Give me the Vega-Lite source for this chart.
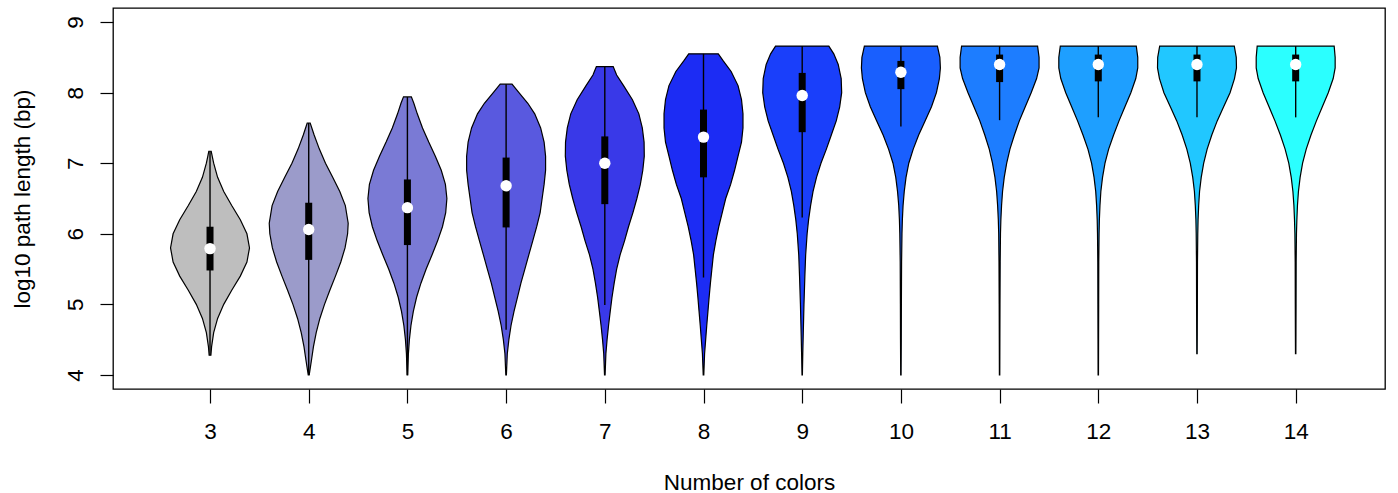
{
  "$schema": "https://vega.github.io/schema/vega-lite/v6.json",
  "width": 1272,
  "height": 381,
  "autosize": {"type": "none"},
  "padding": {"left": 113, "top": 8, "right": 13, "bottom": 104},
  "background": "white",
  "config": {
    "view": {"stroke": "black", "strokeWidth": 1.3},
    "font": "Liberation Sans"
  },
  "datasets": {
    "violins": [
      {"n":3,"v":4.28,"w":0.009},{"n":3,"v":4.4,"w":0.016},{"n":3,"v":4.6,"w":0.037},{"n":3,"v":4.8,"w":0.077},{"n":3,"v":5.0,"w":0.139},{"n":3,"v":5.2,"w":0.22},{"n":3,"v":5.4,"w":0.307},{"n":3,"v":5.6,"w":0.374},{"n":3,"v":5.8,"w":0.4},{"n":3,"v":6.0,"w":0.374},{"n":3,"v":6.2,"w":0.307},{"n":3,"v":6.4,"w":0.22},{"n":3,"v":6.6,"w":0.139},{"n":3,"v":6.8,"w":0.077},{"n":3,"v":7.0,"w":0.037},{"n":3,"v":7.1,"w":0.022},{"n":3,"v":7.17,"w":0.012},
      {"n":4,"v":4.0,"w":0.005},{"n":4,"v":4.2,"w":0.027},{"n":4,"v":4.4,"w":0.048},{"n":4,"v":4.6,"w":0.076},{"n":4,"v":4.8,"w":0.113},{"n":4,"v":5.0,"w":0.16},{"n":4,"v":5.2,"w":0.214},{"n":4,"v":5.4,"w":0.271},{"n":4,"v":5.6,"w":0.325},{"n":4,"v":5.8,"w":0.368},{"n":4,"v":6.0,"w":0.394},{"n":4,"v":6.15,"w":0.4},{"n":4,"v":6.4,"w":0.371},{"n":4,"v":6.6,"w":0.315},{"n":4,"v":6.8,"w":0.243},{"n":4,"v":7.0,"w":0.17},{"n":4,"v":7.2,"w":0.108},{"n":4,"v":7.4,"w":0.055},{"n":4,"v":7.57,"w":0.015},
      {"n":5,"v":4.0,"w":0.003},{"n":5,"v":4.3,"w":0.01},{"n":5,"v":4.5,"w":0.02},{"n":5,"v":4.7,"w":0.036},{"n":5,"v":4.9,"w":0.06},{"n":5,"v":5.1,"w":0.093},{"n":5,"v":5.3,"w":0.137},{"n":5,"v":5.5,"w":0.19},{"n":5,"v":5.7,"w":0.249},{"n":5,"v":5.9,"w":0.306},{"n":5,"v":6.1,"w":0.355},{"n":5,"v":6.3,"w":0.388},{"n":5,"v":6.5,"w":0.4},{"n":5,"v":6.7,"w":0.385},{"n":5,"v":6.9,"w":0.343},{"n":5,"v":7.1,"w":0.283},{"n":5,"v":7.3,"w":0.216},{"n":5,"v":7.5,"w":0.153},{"n":5,"v":7.7,"w":0.1},{"n":5,"v":7.85,"w":0.065},{"n":5,"v":7.94,"w":0.04},
      {"n":6,"v":4.0,"w":0.003},{"n":6,"v":4.3,"w":0.012},{"n":6,"v":4.5,"w":0.028},{"n":6,"v":4.7,"w":0.05},{"n":6,"v":4.9,"w":0.08},{"n":6,"v":5.1,"w":0.115},{"n":6,"v":5.3,"w":0.15},{"n":6,"v":5.5,"w":0.19},{"n":6,"v":5.7,"w":0.23},{"n":6,"v":5.9,"w":0.27},{"n":6,"v":6.1,"w":0.31},{"n":6,"v":6.3,"w":0.345},{"n":6,"v":6.5,"w":0.365},{"n":6,"v":6.7,"w":0.385},{"n":6,"v":6.9,"w":0.4},{"n":6,"v":7.1,"w":0.4},{"n":6,"v":7.3,"w":0.385},{"n":6,"v":7.5,"w":0.35},{"n":6,"v":7.7,"w":0.29},{"n":6,"v":7.85,"w":0.22},{"n":6,"v":8.0,"w":0.13},{"n":6,"v":8.12,"w":0.06},
      {"n":7,"v":4.0,"w":0.003},{"n":7,"v":4.3,"w":0.011},{"n":7,"v":4.5,"w":0.023},{"n":7,"v":4.7,"w":0.038},{"n":7,"v":4.9,"w":0.055},{"n":7,"v":5.1,"w":0.073},{"n":7,"v":5.3,"w":0.095},{"n":7,"v":5.5,"w":0.12},{"n":7,"v":5.7,"w":0.155},{"n":7,"v":5.9,"w":0.2},{"n":7,"v":6.1,"w":0.24},{"n":7,"v":6.3,"w":0.285},{"n":7,"v":6.5,"w":0.325},{"n":7,"v":6.7,"w":0.36},{"n":7,"v":6.9,"w":0.385},{"n":7,"v":7.1,"w":0.4},{"n":7,"v":7.3,"w":0.398},{"n":7,"v":7.5,"w":0.38},{"n":7,"v":7.7,"w":0.345},{"n":7,"v":7.9,"w":0.28},{"n":7,"v":8.1,"w":0.19},{"n":7,"v":8.25,"w":0.12},{"n":7,"v":8.37,"w":0.085},
      {"n":8,"v":4.0,"w":0.003},{"n":8,"v":4.3,"w":0.011},{"n":8,"v":4.5,"w":0.022},{"n":8,"v":4.7,"w":0.033},{"n":8,"v":4.9,"w":0.045},{"n":8,"v":5.1,"w":0.057},{"n":8,"v":5.3,"w":0.07},{"n":8,"v":5.5,"w":0.085},{"n":8,"v":5.7,"w":0.1},{"n":8,"v":5.9,"w":0.125},{"n":8,"v":6.1,"w":0.155},{"n":8,"v":6.3,"w":0.19},{"n":8,"v":6.5,"w":0.225},{"n":8,"v":6.7,"w":0.275},{"n":8,"v":6.9,"w":0.315},{"n":8,"v":7.1,"w":0.35},{"n":8,"v":7.3,"w":0.385},{"n":8,"v":7.5,"w":0.4},{"n":8,"v":7.7,"w":0.4},{"n":8,"v":7.9,"w":0.385},{"n":8,"v":8.1,"w":0.35},{"n":8,"v":8.3,"w":0.28},{"n":8,"v":8.45,"w":0.2},{"n":8,"v":8.55,"w":0.15},
      {"n":9,"v":4.0,"w":0.002},{"n":9,"v":4.3,"w":0.006},{"n":9,"v":4.6,"w":0.011},{"n":9,"v":5.0,"w":0.018},{"n":9,"v":5.4,"w":0.027},{"n":9,"v":5.7,"w":0.035},{"n":9,"v":6.0,"w":0.05},{"n":9,"v":6.2,"w":0.065},{"n":9,"v":6.4,"w":0.085},{"n":9,"v":6.6,"w":0.11},{"n":9,"v":6.8,"w":0.145},{"n":9,"v":7.0,"w":0.19},{"n":9,"v":7.2,"w":0.245},{"n":9,"v":7.4,"w":0.295},{"n":9,"v":7.6,"w":0.345},{"n":9,"v":7.8,"w":0.38},{"n":9,"v":8.0,"w":0.4},{"n":9,"v":8.2,"w":0.395},{"n":9,"v":8.4,"w":0.365},{"n":9,"v":8.55,"w":0.32},{"n":9,"v":8.66,"w":0.27},
      {"n":10,"v":4.0,"w":0.002},{"n":10,"v":4.5,"w":0.004},{"n":10,"v":5.0,"w":0.005},{"n":10,"v":5.6,"w":0.007},{"n":10,"v":6.0,"w":0.011},{"n":10,"v":6.2,"w":0.015},{"n":10,"v":6.4,"w":0.022},{"n":10,"v":6.6,"w":0.034},{"n":10,"v":6.8,"w":0.052},{"n":10,"v":7.0,"w":0.08},{"n":10,"v":7.2,"w":0.125},{"n":10,"v":7.4,"w":0.18},{"n":10,"v":7.6,"w":0.245},{"n":10,"v":7.8,"w":0.31},{"n":10,"v":8.0,"w":0.36},{"n":10,"v":8.2,"w":0.39},{"n":10,"v":8.35,"w":0.4},{"n":10,"v":8.5,"w":0.395},{"n":10,"v":8.66,"w":0.37},
      {"n":11,"v":4.0,"w":0.002},{"n":11,"v":4.5,"w":0.003},{"n":11,"v":5.0,"w":0.004},{"n":11,"v":5.6,"w":0.006},{"n":11,"v":6.0,"w":0.009},{"n":11,"v":6.2,"w":0.013},{"n":11,"v":6.4,"w":0.02},{"n":11,"v":6.6,"w":0.03},{"n":11,"v":6.8,"w":0.047},{"n":11,"v":7.0,"w":0.072},{"n":11,"v":7.2,"w":0.105},{"n":11,"v":7.4,"w":0.15},{"n":11,"v":7.6,"w":0.2},{"n":11,"v":7.8,"w":0.26},{"n":11,"v":8.0,"w":0.32},{"n":11,"v":8.2,"w":0.375},{"n":11,"v":8.35,"w":0.4},{"n":11,"v":8.5,"w":0.4},{"n":11,"v":8.66,"w":0.385},
      {"n":12,"v":4.0,"w":0.002},{"n":12,"v":4.5,"w":0.003},{"n":12,"v":5.0,"w":0.004},{"n":12,"v":5.6,"w":0.005},{"n":12,"v":6.0,"w":0.008},{"n":12,"v":6.2,"w":0.011},{"n":12,"v":6.4,"w":0.017},{"n":12,"v":6.6,"w":0.026},{"n":12,"v":6.8,"w":0.043},{"n":12,"v":7.0,"w":0.068},{"n":12,"v":7.2,"w":0.105},{"n":12,"v":7.4,"w":0.155},{"n":12,"v":7.6,"w":0.21},{"n":12,"v":7.8,"w":0.27},{"n":12,"v":8.0,"w":0.33},{"n":12,"v":8.2,"w":0.38},{"n":12,"v":8.35,"w":0.4},{"n":12,"v":8.5,"w":0.4},{"n":12,"v":8.66,"w":0.385},
      {"n":13,"v":4.3,"w":0.002},{"n":13,"v":4.6,"w":0.003},{"n":13,"v":5.0,"w":0.004},{"n":13,"v":5.6,"w":0.005},{"n":13,"v":6.0,"w":0.008},{"n":13,"v":6.2,"w":0.011},{"n":13,"v":6.4,"w":0.017},{"n":13,"v":6.6,"w":0.026},{"n":13,"v":6.8,"w":0.043},{"n":13,"v":7.0,"w":0.068},{"n":13,"v":7.2,"w":0.103},{"n":13,"v":7.4,"w":0.15},{"n":13,"v":7.6,"w":0.205},{"n":13,"v":7.8,"w":0.27},{"n":13,"v":8.0,"w":0.335},{"n":13,"v":8.2,"w":0.38},{"n":13,"v":8.35,"w":0.4},{"n":13,"v":8.5,"w":0.398},{"n":13,"v":8.66,"w":0.378},
      {"n":14,"v":4.3,"w":0.002},{"n":14,"v":4.6,"w":0.003},{"n":14,"v":5.0,"w":0.004},{"n":14,"v":5.6,"w":0.005},{"n":14,"v":6.0,"w":0.008},{"n":14,"v":6.2,"w":0.012},{"n":14,"v":6.4,"w":0.018},{"n":14,"v":6.6,"w":0.028},{"n":14,"v":6.8,"w":0.045},{"n":14,"v":7.0,"w":0.07},{"n":14,"v":7.2,"w":0.107},{"n":14,"v":7.4,"w":0.155},{"n":14,"v":7.6,"w":0.21},{"n":14,"v":7.8,"w":0.27},{"n":14,"v":8.0,"w":0.33},{"n":14,"v":8.2,"w":0.38},{"n":14,"v":8.35,"w":0.4},{"n":14,"v":8.5,"w":0.4},{"n":14,"v":8.66,"w":0.39}
    ],
    "boxes": [
      {"n":3,"lo":4.28,"q1":5.48,"med":5.79,"q3":6.1,"hi":7.17},
      {"n":4,"lo":4.0,"q1":5.63,"med":6.06,"q3":6.44,"hi":7.57},
      {"n":5,"lo":4.0,"q1":5.84,"med":6.37,"q3":6.77,"hi":7.94},
      {"n":6,"lo":4.64,"q1":6.09,"med":6.68,"q3":7.08,"hi":8.12},
      {"n":7,"lo":4.99,"q1":6.42,"med":7.0,"q3":7.38,"hi":8.37},
      {"n":8,"lo":5.38,"q1":6.8,"med":7.37,"q3":7.76,"hi":8.55},
      {"n":9,"lo":6.23,"q1":7.44,"med":7.96,"q3":8.28,"hi":8.66},
      {"n":10,"lo":7.52,"q1":8.05,"med":8.29,"q3":8.45,"hi":8.66},
      {"n":11,"lo":7.61,"q1":8.15,"med":8.4,"q3":8.54,"hi":8.66},
      {"n":12,"lo":7.65,"q1":8.16,"med":8.4,"q3":8.54,"hi":8.66},
      {"n":13,"lo":7.65,"q1":8.16,"med":8.4,"q3":8.54,"hi":8.66},
      {"n":14,"lo":7.65,"q1":8.16,"med":8.4,"q3":8.54,"hi":8.66}
    ]
  },
  "layer": [
    {
      "data": {"name": "violins"},
      "transform": [
        {"calculate": "datum.n - datum.w", "as": "left"},
        {"calculate": "datum.n + datum.w", "as": "right"}
      ],
      "mark": {"type": "area", "orient": "horizontal", "stroke": "black", "strokeWidth": 1.2, "fillOpacity": 1, "opacity": 1},
      "encoding": {
        "y": {"field": "v", "type": "quantitative", "scale": {"domain": [3.8, 9.2], "nice": false, "zero": false}, "title": "log10 path length (bp)",
          "axis": {"values": [4,5,6,7,8,9], "format": "d", "grid": false, "domain": false, "tickSize": 13, "tickColor": "black", "tickWidth": 1.2, "labelAngle": 270, "labelAlign": "center", "labelBaseline": "alphabetic", "labelPadding": 18, "labelFontSize": 22.5, "labelColor": "black", "labelFont": "Liberation Sans", "titleFont": "Liberation Sans", "titleFontSize": 22.5, "titleFontWeight": "normal", "titleColor": "black", "titleAngle": 270, "titleAlign": "center", "titleBaseline": "alphabetic", "titleX": -84, "titleY": 190.5}},
        "x": {"field": "left", "type": "quantitative", "stack": null, "scale": {"domain": [2.017, 14.905], "nice": false, "zero": false}, "title": "Number of colors",
          "axis": {"values": [3,4,5,6,7,8,9,10,11,12,13,14], "format": "d", "grid": false, "domain": false, "tickSize": 14, "tickColor": "black", "tickWidth": 1.2, "labelPadding": 17.5, "labelFontSize": 22.5, "labelColor": "black", "labelFont": "Liberation Sans", "titleFont": "Liberation Sans", "titleFontSize": 22.5, "titleFontWeight": "normal", "titleColor": "black", "titleBaseline": "alphabetic", "titleX": 636, "titleY": 100, "titleAlign": "center"}},
        "x2": {"field": "right"},
        "color": {"field": "n", "type": "nominal", "legend": null,
          "scale": {"domain": [3,4,5,6,7,8,9,10,11,12,13,14], "range": ["#BEBEBE","#9B9BCA","#7A7AD5","#5959DF","#3939E8","#1C2CF4","#1A3FFA","#195FFE","#1D7DFF","#1E9FFF","#21C7FF","#2BFFFF"]}}
      }
    },
    {
      "data": {"name": "boxes"},
      "mark": {"type": "rule", "color": "black", "strokeWidth": 1.4},
      "encoding": {
        "x": {"field": "n", "type": "quantitative"},
        "y": {"field": "lo", "type": "quantitative"},
        "y2": {"field": "hi"}
      }
    },
    {
      "data": {"name": "boxes"},
      "mark": {"type": "rule", "color": "black", "strokeWidth": 7, "strokeCap": "butt"},
      "encoding": {
        "x": {"field": "n", "type": "quantitative"},
        "y": {"field": "q1", "type": "quantitative"},
        "y2": {"field": "q3"}
      }
    },
    {
      "data": {"name": "boxes"},
      "mark": {"type": "circle", "color": "white", "size": 130, "opacity": 1},
      "encoding": {
        "x": {"field": "n", "type": "quantitative"},
        "y": {"field": "med", "type": "quantitative"}
      }
    }
  ]
}
